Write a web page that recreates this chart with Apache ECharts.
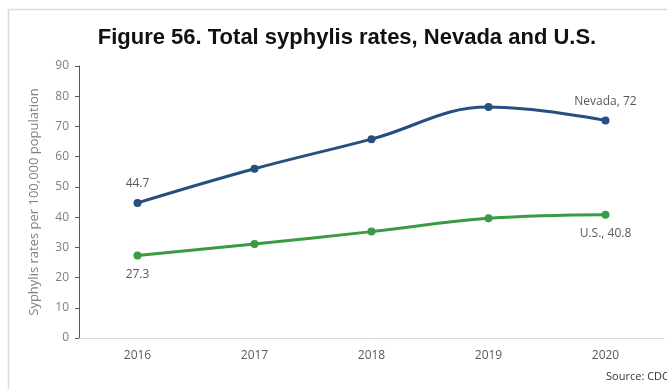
<!DOCTYPE html>
<html>
<head>
<meta charset="utf-8">
<script src="https://cdn.jsdelivr.net/npm/echarts@6/dist/echarts.min.js"></script>
<style>html,body{margin:0;padding:0;background:#fff}#c{width:667px;height:389px}</style>
</head>
<body>
<div id="c"></div>
<script>
const years = ['2016', '2017', '2018', '2019', '2020'];
const nevada = [44.7, 56.0, 65.8, 76.4, 72];
const us = [27.3, 31.1, 35.2, 39.6, 40.8];
const yTicks = { min: 0, max: 90, interval: 10 };

const chart = echarts.init(document.getElementById('c'), null, { renderer: 'canvas' });
const labelFont = { color: '#595959', fontSize: 12, fontFamily: 'Open Sans, Liberation Sans, sans-serif' };

function buildData(vals, name, pos) {
  return vals.map((v, i) => {
    const item = { value: v };
    if (i === 0) {
      item.label = Object.assign({ show: true, position: pos, distance: 9, formatter: String(v) }, labelFont);
    } else if (i === vals.length - 1) {
      item.label = Object.assign({ show: true, position: pos, distance: 9, formatter: name + ', ' + v }, labelFont);
    }
    return item;
  });
}

chart.setOption({
  animation: false,
  title: {
    text: 'Figure 56. Total syphylis rates, Nevada and U.S.',
    left: 342, top: 22, textAlign: 'center',
    textStyle: { fontFamily: 'Liberation Sans, Arial, sans-serif', fontWeight: 'bold', fontSize: 22, color: '#111' }
  },
  graphic: [
    { type: 'polyline', shape: { points: [[8.5, 389], [8.5, 9.5], [667, 9.5]] }, style: { stroke: '#dcdcdc', lineWidth: 1.5, fill: null } },
    { type: 'text', right: -2, top: 371, style: { text: 'Source: CDC', fontSize: 11, fill: '#333', fontFamily: 'Open Sans, Liberation Sans, sans-serif' } }
  ],
  grid: { left: 79, right: 3, top: 66, bottom: 51 },
  xAxis: {
    type: 'category', data: years, boundaryGap: true,
    axisLine: { lineStyle: { color: '#d9d9d9', width: 1 } },
    axisTick: { show: false },
    axisLabel: { color: '#595959', fontSize: 12, margin: 12, fontFamily: 'Open Sans, Liberation Sans, sans-serif' }
  },
  yAxis: {
    type: 'value', min: yTicks.min, max: yTicks.max, interval: yTicks.interval,
    name: 'Syphylis rates per 100,000 population', nameLocation: 'middle', nameGap: 38, nameRotate: 90,
    nameTextStyle: { color: '#7f7f7f', fontSize: 13, fontFamily: 'Open Sans, Liberation Sans, sans-serif' },
    axisLine: { show: true, lineStyle: { color: '#595959', width: 1 } },
    axisTick: { show: true, length: 4, lineStyle: { color: '#595959' } },
    splitLine: { show: false },
    axisLabel: { color: '#7f7f7f', fontSize: 12, margin: 10, fontFamily: 'Open Sans, Liberation Sans, sans-serif' }
  },
  series: [
    {
      name: 'Nevada', type: 'line', smooth: 0.4, data: buildData(nevada, 'Nevada', 'top'),
      symbol: 'circle', symbolSize: 8,
      lineStyle: { color: '#264e7f', width: 3 }, itemStyle: { color: '#264e7f' }
    },
    {
      name: 'U.S.', type: 'line', smooth: 0.4, data: buildData(us, 'U.S.', 'bottom'),
      symbol: 'circle', symbolSize: 8,
      lineStyle: { color: '#3a9b45', width: 3 }, itemStyle: { color: '#3a9b45' }
    }
  ]
});
</script>
</body>
</html>
